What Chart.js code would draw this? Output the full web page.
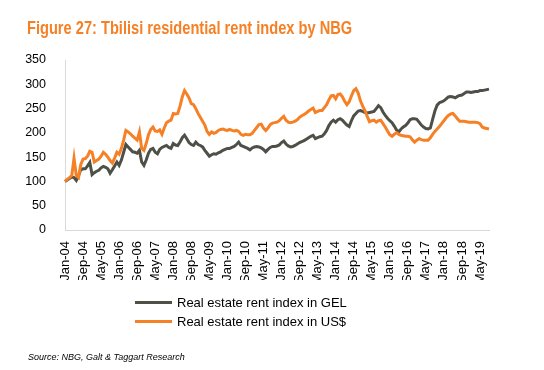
<!DOCTYPE html>
<html>
<head>
<meta charset="utf-8">
<script src="https://cdn.jsdelivr.net/npm/chart.js@4"></script>
<style>
  body { margin: 0; background: #fff; font-family: "Liberation Sans", Arial, sans-serif; }
  #wrap { position: relative; width: 544px; height: 370px; }
  #chart { position: absolute; left: 0; top: 0; }
  .title { position: absolute; left: 27px; top: 17px; font-size: 19px; font-weight: bold; color: #f58025;
           white-space: nowrap; transform: scaleX(0.77); transform-origin: left top; }
  .leg { position: absolute; left: 135px; font-size: 13px; color: #000; white-space: nowrap; }
  .leg span { display: inline-block; width: 37px; height: 3px; vertical-align: middle; margin-right: 5px; position: relative; top: -1px; }
  .source { position: absolute; left: 28px; top: 352px; font-size: 9px; font-style: italic; color: #000; }
</style>
</head>
<body>
<div id="wrap">
  <canvas id="chart" width="544" height="370"></canvas>
  <div class="title">Figure 27: Tbilisi residential rent index by NBG</div>
  <div class="leg" style="top:295px"><span style="background:#4d5047"></span>Real estate rent index in GEL</div>
  <div class="leg" style="top:314px"><span style="background:#f58025"></span>Real estate rent index in US$</div>
  <div class="source">Source: NBG, Galt &amp; Taggart Research</div>
</div>
<script>
// maanedlige kategorier Jan-04 .. Sep-19
let monthNames = ['Jan','Feb','Mar','Apr','May','Jun','Jul','Aug','Sep','Oct','Nov','Dec'];
let categories = [];
for (let y = 2004; y <= 2019; y++) {
  for (let m = 0; m < 12; m++) {
    if (y === 2019 && m > 8) break;
    categories.push(monthNames[m] + '-' + String(y).slice(2));
  }
}

// index i GEL (aflaest fra figuren)
let gelIndex = [
  100,103,106,109,108,102,112,124,126,126,132,139,
  114,118,121,123,128,131,129,126,117,124,132,140,
  133,144,160,176,171,166,161,160,158,164,140,133,
  144,158,166,168,160,157,166,170,172,174,170,168,
  178,175,174,181,190,195,188,180,176,174,181,176,
  174,171,164,158,152,155,157,156,159,161,164,166,
  168,168,170,172,176,181,174,172,170,168,165,169,
  171,172,171,169,166,161,166,170,172,172,173,175,
  180,183,177,173,171,172,174,177,180,182,184,187,
  190,193,195,188,190,192,193,198,205,215,222,226,
  222,227,229,226,221,216,213,225,235,240,245,246,
  244,242,241,242,243,244,250,256,252,243,236,230,
  225,221,214,206,202,208,212,215,220,227,229,229,
  228,222,216,212,209,208,210,228,245,257,262,264,
  266,270,274,275,274,272,275,277,278,281,284,284,
  283,284,285,285,287,287,288,289,290
];

// index i US$
let usdIndex = [
  100,104,108,112,148,112,108,135,146,147,152,162,
  160,140,143,146,152,160,156,150,143,138,148,160,
  156,168,185,205,202,198,193,189,185,202,168,164,
  178,196,207,212,204,203,206,197,210,221,224,226,
  240,239,240,255,274,287,280,272,260,258,250,240,
  232,224,216,203,197,202,199,201,205,207,208,206,
  205,207,205,204,205,203,197,195,197,196,196,199,
  205,211,217,218,210,205,210,217,220,221,222,225,
  230,234,226,222,221,222,224,227,232,235,238,241,
  245,248,251,242,244,246,246,252,258,268,276,277,
  270,279,280,274,265,258,264,276,287,291,282,266,
  255,246,234,223,225,226,222,225,226,219,212,204,
  196,193,197,200,197,195,194,193,193,192,186,181,
  185,188,186,185,185,185,190,197,203,208,213,219,
  225,231,236,239,240,235,229,224,224,224,223,222,
  222,222,222,221,219,212,210,209,208
];

let yTicks = [0, 50, 100, 150, 200, 250, 300, 350];
let labelEvery = 8;

let graphEl = document.getElementById('chart');

let graph = new Chart(graphEl, {
  type: 'line',
  data: {
    labels: categories,
    datasets: [{
      label: 'Real estate rent index in GEL',
      data: gelIndex,
      borderColor: '#4d5047',
      borderWidth: 3,
      pointRadius: 0,
      order: 1
    }, {
      label: 'Real estate rent index in US$',
      data: usdIndex,
      borderColor: '#f58025',
      borderWidth: 3,
      pointRadius: 0,
      order: 0
    }]
  },
  options: {
    responsive: false,
    animation: false,
    layout: { padding: { top: 60, right: 55, bottom: 90, left: 0 } },
    plugins: {
      legend: { display: false },
      tooltip: { enabled: false }
    },
    scales: {
      x: {
        grid: { display: false },
        border: { color: '#d9d9d9' },
        ticks: {
          autoSkip: false,
          minRotation: 90,
          maxRotation: 90,
          padding: 3,
          color: '#000',
          font: { family: 'Liberation Sans', size: 13 },
          callback: (v, i) => i % labelEvery === 0 ? categories[i] : null
        },
        afterFit: s => { s.height = 50; }
      },
      y: {
        min: yTicks[0],
        max: yTicks[yTicks.length - 1],
        grid: { display: false },
        border: { color: '#d9d9d9' },
        ticks: {
          stepSize: 50,
          padding: 11,
          color: '#000',
          font: { family: 'Liberation Sans', size: 12.5 }
        },
        afterFit: s => { s.width = 65; }
      }
    }
  }
});
</script>
</body>
</html>
